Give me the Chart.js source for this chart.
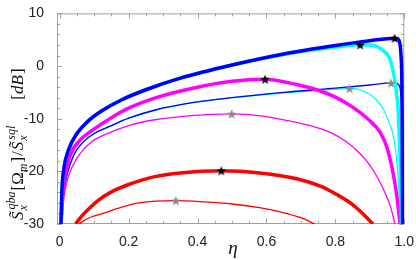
<!DOCTYPE html>
<html>
<head>
<meta charset="utf-8">
<script src="https://cdn.jsdelivr.net/npm/chart.js@4"></script>
<style>
  html, body { margin: 0; padding: 0; background: #fff; }
  #wrap { width: 416px; height: 260px; }
</style>
</head>
<body>
<div id="wrap"><canvas id="chart" width="416" height="260"></canvas></div>
<script>
// axis ticks
const xTicks = [0, 0.2, 0.4, 0.6, 0.8, 1.0];
const xTickLabels = ["0", "0.2", "0.4", "0.6", "0.8", "1.0"];
const yTicks = [-30, -20, -10, 0, 10];

// thick curves
const etaBlueThick = [0.0035, 0.006, 0.012, 0.025, 0.05, 0.08, 0.12, 0.18, 0.25, 0.35, 0.5, 0.65, 0.8, 0.9, 0.972, 0.982, 0.988, 0.991, 0.993, 0.994, 0.995];
const dbBlueThick  = [-30, -24, -19.5, -16, -12.8, -10.6, -8.6, -6.4, -4.5, -2.3, 0.2, 2.3, 3.9, 4.8, 5.3, 5.1, 4.0, 1.5, -3, -12, -30];

const etaCyanThick = [0.0035, 0.006, 0.012, 0.025, 0.05, 0.08, 0.12, 0.18, 0.25, 0.35, 0.5, 0.65, 0.8, 0.872, 0.91, 0.93, 0.945, 0.957, 0.966, 0.972, 0.978, 0.982, 0.985, 0.988, 0.99, 0.992];
const dbCyanThick  = [-30, -24, -19.5, -16, -12.8, -10.6, -8.6, -6.4, -4.5, -2.3, 0.2, 2.2, 3.6, 4.05, 3.9, 3.4, 2.6, 1.5, -0.5, -2.5, -5.5, -8, -12.6, -18, -24, -30];

const etaMagThick = [0.004, 0.008, 0.015, 0.03, 0.06, 0.09, 0.15, 0.2, 0.28, 0.38, 0.5, 0.596, 0.687, 0.75, 0.8, 0.85, 0.9, 0.93, 0.95, 0.965, 0.977, 0.988];
const dbMagThick  = [-30, -25, -21, -17, -14, -12.4, -9.8, -8.0, -6.0, -4.3, -2.9, -2.5, -3.5, -4.6, -5.9, -7.8, -10.4, -12.6, -15.5, -19.5, -24, -30];

const etaRedThick = [0.046, 0.06, 0.08, 0.11, 0.15, 0.2, 0.276, 0.35, 0.469, 0.58, 0.688, 0.76, 0.804, 0.85, 0.879, 0.909];
const dbRedThick  = [-30, -28.8, -27.4, -25.6, -23.9, -22.5, -21.0, -20.3, -19.87, -20.3, -21.4, -22.9, -24.4, -26.3, -28.0, -30];

// thin curves
const etaBlueThin = [0.005, 0.01, 0.02, 0.04, 0.07, 0.1, 0.14, 0.2, 0.28, 0.38, 0.5, 0.65, 0.8, 0.9, 0.962, 0.978, 0.987, 0.991, 0.994, 0.995, 0.996];
const dbBlueThin  = [-30, -25, -21, -17, -14.3, -12.8, -11.6, -9.9, -8.3, -7.0, -6.0, -5.0, -4.2, -3.6, -3.21, -3.3, -4.0, -6, -10, -18, -30];

const etaCyanThin = [0.005, 0.01, 0.02, 0.04, 0.07, 0.1, 0.14, 0.2, 0.28, 0.38, 0.5, 0.65, 0.75, 0.8, 0.841, 0.87, 0.9, 0.92, 0.94, 0.955, 0.966, 0.975, 0.982, 0.986, 0.99];
const dbCyanThin  = [-30, -25, -21, -17, -14.3, -12.8, -11.6, -9.9, -8.3, -7.0, -6.0, -5.1, -4.6, -4.4, -4.26, -4.5, -5.4, -6.5, -8.3, -10.5, -12.6, -16, -21, -25, -30];

const etaMagThin = [0.006, 0.012, 0.025, 0.05, 0.09, 0.147, 0.2, 0.276, 0.38, 0.499, 0.58, 0.64, 0.72, 0.785, 0.83, 0.87, 0.9, 0.925, 0.945, 0.96, 0.973];
const dbMagThin  = [-30, -25, -21, -17.5, -14.5, -12.6, -11.3, -10.2, -9.4, -9.07, -9.4, -10.1, -11.2, -12.6, -14.3, -16.5, -18.8, -21.5, -24.2, -26.7, -30];

const etaRedThin = [0.056, 0.08, 0.13, 0.18, 0.23, 0.337, 0.42, 0.5, 0.58, 0.64, 0.7, 0.74];
const dbRedThin  = [-30, -29.0, -27.9, -26.8, -26.0, -25.56, -25.8, -26.2, -26.9, -27.7, -28.8, -30];

// optimum markers
const starEtaThick = [0.972, 0.872, 0.596, 0.469];
const starDbThick  = [5.3, 4.05, -2.5, -19.87];
const starEtaThin  = [0.962, 0.841, 0.499, 0.337];
const starDbThin   = [-3.21, -4.26, -9.07, -25.56];

function pts(xs, ys) { return xs.map((x, i) => ({x: x, y: ys[i]})); }

function makeStar(color, r) {
    const c = document.createElement("canvas");
    const s = Math.ceil(2 * r + 2);
    c.width = s; c.height = s;
    const g = c.getContext("2d");
    g.fillStyle = color;
    g.beginPath();
    for (let i = 0; i < 10; i++) {
        const a = -Math.PI / 2 + i * Math.PI / 5;
        const rr = i % 2 ? r * 0.45 : r;
        const px = s / 2 + rr * Math.cos(a), py = s / 2 + 0.6 + rr * Math.sin(a);
        if (i === 0) g.moveTo(px, py); else g.lineTo(px, py);
    }
    g.closePath();
    g.fill();
    return c;
}

function curve(xs, ys, color, width, order) {
    return {
        data: pts(xs, ys),
        borderColor: color,
        borderWidth: width,
        pointRadius: 0,
        fill: false,
        cubicInterpolationMode: "monotone",
        order: order
    };
}

const frame = {
    id: "frame",
    beforeDatasetsDraw(chart) {
        const {ctx, chartArea: a, scales: {x, y}} = chart;
        ctx.save();
        ctx.strokeStyle = "#a0a0a0";
        ctx.lineWidth = 1;
        ctx.strokeRect(a.left + 0.5, a.top + 0.5, a.right - a.left - 1, a.bottom - a.top - 1);
        ctx.beginPath();
        for (let k = 0; k <= 20; k++) {
            const px = Math.round(x.getPixelForValue(k * 0.05)) + 0.5;
            const len = k % 4 === 0 ? 5 : 3;
            ctx.moveTo(px, a.bottom); ctx.lineTo(px, a.bottom - len);
            ctx.moveTo(px, a.top); ctx.lineTo(px, a.top + len);
        }
        for (let v = -30; v <= 10; v += 2) {
            const py = Math.round(y.getPixelForValue(v)) + 0.5;
            const len = v % 10 === 0 ? 5 : 3;
            ctx.moveTo(a.left, py); ctx.lineTo(a.left + len, py);
            ctx.moveTo(a.right, py); ctx.lineTo(a.right - len, py);
        }
        ctx.stroke();
        ctx.restore();
    },
    afterDraw(chart) {
        const ctx = chart.ctx;
        ctx.save();
        ctx.fillStyle = "#111";
        // x title
        ctx.font = "italic 19px 'Liberation Serif'";
        ctx.textAlign = "center";
        ctx.textBaseline = "alphabetic";
        ctx.fillText("η", 233, 254);
        // y title, rotated; gap = extra space before a part
        const big = "italic 17px 'Liberation Serif'";
        const up = "17px 'Liberation Serif'";
        const small = "italic 12px 'Liberation Serif'";
        const parts = [
            {t: "S\u0303", f: big, dy: 0, gap: 0},
            {t: "x", f: small, dy: 4, gap: 1, sub: true},
            {t: "qba", f: small, dy: -8, gap: 1},
            {t: "[", f: up, dy: 0, gap: 1},
            {t: "Ω", f: up, dy: 0, gap: 0},
            {t: "m", f: small, dy: 4, gap: 0},
            {t: "]", f: up, dy: 0, gap: 1},
            {t: "/", f: up, dy: 0, gap: 1},
            {t: "S\u0303", f: big, dy: 0, gap: 1},
            {t: "x", f: small, dy: 4, gap: 1, sub: true},
            {t: "sql", f: small, dy: -8, gap: 1},
            {t: "[", f: up, dy: 0, gap: 26},
            {t: "dB", f: big, dy: 0, gap: 0},
            {t: "]", f: up, dy: 0, gap: 1}
        ];
        ctx.translate(23, 220);
        ctx.rotate(-Math.PI / 2);
        ctx.textAlign = "left";
        let cx = 0;
        for (const p of parts) {
            ctx.font = p.f;
            const w = ctx.measureText(p.t).width;
            cx += p.gap;
            ctx.fillText(p.t, cx, p.dy);
            if (!p.sub) cx += w;
        }
        ctx.restore();
    }
};

const ctx = document.getElementById("chart").getContext("2d");
Chart.defaults.font.family = "'Liberation Sans', Arial, sans-serif";
new Chart(ctx, {
    type: "line",
    data: {
        datasets: [
            {type: "scatter", data: pts(starEtaThick, starDbThick), pointStyle: makeStar("#000", 5), showLine: false, order: 0},
            {type: "scatter", data: pts(starEtaThin, starDbThin), pointStyle: makeStar("#8a8a8a", 5), showLine: false, order: 0},
            curve(etaBlueThick, dbBlueThick, "#0000ff", 3.5, 1),
            curve(etaCyanThick, dbCyanThick, "#00ffff", 3.5, 2),
            curve(etaMagThick, dbMagThick, "#ff00ff", 3.5, 3),
            curve(etaRedThick, dbRedThick, "#ff0000", 3.5, 4),
            curve(etaBlueThin, dbBlueThin, "#0000ff", 1.3, 5),
            curve(etaCyanThin, dbCyanThin, "#00ffff", 1.3, 6),
            curve(etaMagThin, dbMagThin, "#ff00ff", 1.3, 7),
            curve(etaRedThin, dbRedThin, "#ff0000", 1.3, 8)
        ]
    },
    options: {
        responsive: false,
        animation: false,
        layout: {padding: {left: 0, right: 11, top: 8, bottom: 0}},
        plugins: {legend: {display: false}, tooltip: {enabled: false}},
        scales: {
            x: {
                type: "linear",
                min: -0.008,
                max: 1.0,
                grid: {display: false},
                border: {display: false},
                afterBuildTicks: s => { s.ticks = xTicks.map(v => ({value: v})); },
                afterFit: s => { s.height = 36; },
                ticks: {
                    padding: 2,
                    color: "#222",
                    font: {size: 14},
                    maxRotation: 0,
                    callback: (v) => xTickLabels[xTicks.indexOf(v)]
                }
            },
            y: {
                min: -30,
                max: 10,
                grid: {display: false},
                border: {display: false},
                afterBuildTicks: s => { s.ticks = yTicks.map(v => ({value: v})); },
                afterFit: s => { s.width = 57; },
                ticks: {padding: 5, color: "#222", font: {size: 14}}
            }
        }
    },
    plugins: [frame]
});
</script>
</body>
</html>
